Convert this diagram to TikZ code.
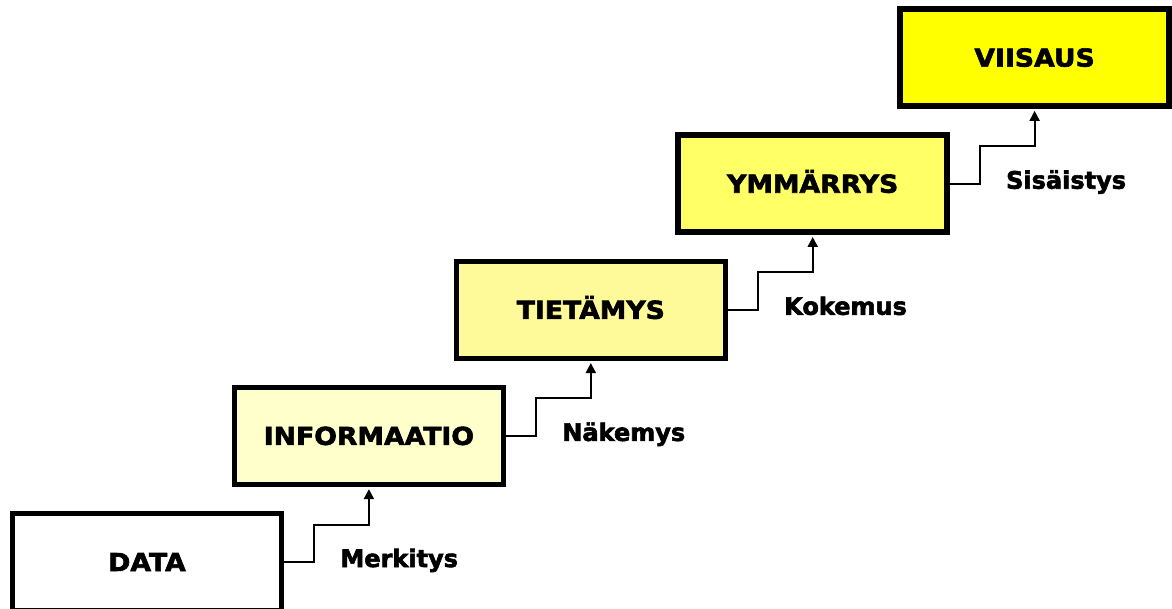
\documentclass[tikz,border=0pt]{standalone}
\usepackage{fontspec}
\newfontfamily\boxfont[FakeStretch=1.08,FakeBold=2.5]{DejaVu Sans Bold}
\newfontfamily\labfont[FakeBold=2.5]{DejaVu Sans Bold}
\usetikzlibrary{arrows.meta,calc}
\definecolor{c0}{HTML}{FFFFFF}
\definecolor{c1}{HTML}{FFFFCC}
\definecolor{c2}{HTML}{FFFA99}
\definecolor{c3}{HTML}{FFFF66}
\definecolor{c4}{HTML}{FFFF00}
\tikzset{
  stepbox/.style={draw=black, line width=5.5pt, minimum width=269pt, minimum height=97pt,
    inner sep=0pt, text height=18pt, text depth=0pt,
    font=\boxfont\fontsize{24.7}{26}\selectfont},
  conn/.style={draw=black, line width=2pt, -{Triangle[length=10pt,width=10pt]}, shorten >=2pt},
  lab/.style={anchor=base west, inner sep=0pt, font=\labfont\fontsize{24}{26}\selectfont}
}
\begin{document}
\begin{tikzpicture}[x=1pt,y=-1pt]
\clip (0,0) rectangle (1172,608);
\fill[white] (0,0) rectangle (1172,608);
\node[stepbox, fill=c0] (b0) at (147,562) {DATA};
\node[stepbox, fill=c1] (b1) at (368.9,435.9) {INFORMAATIO};
\node[stepbox, fill=c2] (b2) at (590.8,309.8) {TIETÄMYS};
\node[stepbox, fill=c3] (b3) at (812.7,183.7) {YMMÄRRYS};
\node[stepbox, fill=c4] (b4) at (1034.6,57.6) {VIISAUS};
\foreach \a/\b/\t in {b0/b1/Merkitys, b1/b2/Näkemys, b2/b3/Kokemus, b3/b4/Sisäistys}{
  \draw[conn] (\a.east) -- ++(30,0) |- ($(\a.east)!0.5!(\b.south)$) -| (\b.south);
  \node[lab] at ($(\a.east)+(56,5)$) {\t};
}
\end{tikzpicture}
\end{document}
